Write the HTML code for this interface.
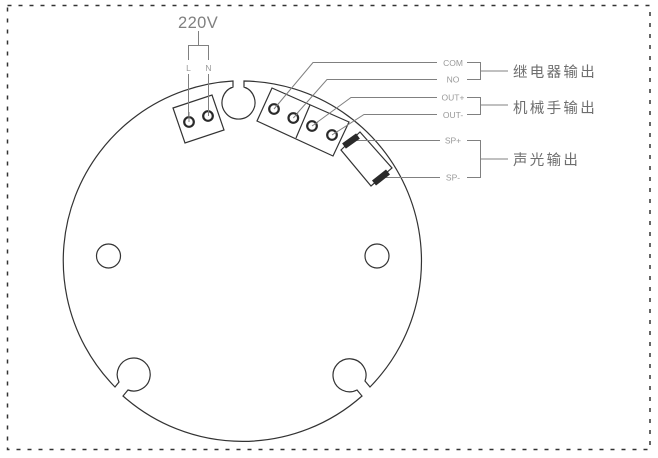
<!DOCTYPE html>
<html>
<head>
<meta charset="utf-8">
<style>
html,body{margin:0;padding:0;background:#fff;width:658px;height:458px;overflow:hidden}
svg{display:block}
text{font-family:"Liberation Sans","Noto Sans CJK SC",sans-serif;fill:#6e6e6e}
</style>
</head>
<body>
<svg width="658" height="458" viewBox="0 0 658 458" xmlns="http://www.w3.org/2000/svg">
<rect width="658" height="458" fill="#fff"/>
<rect x="7.5" y="5.5" width="642.5" height="444" fill="none" stroke="#333" stroke-width="1.5" stroke-dasharray="4 7"/>

<!-- board outline -->
<path d="M233 81 L233 87 A16.5 16.5 0 1 0 244 87 L244 81 A180 180 0 0 1 370 387 L365 381 A16.5 16.5 0 1 0 357 390 L362 396 A180 180 0 0 1 123 396 L128 390 A16.5 16.5 0 1 0 119 382 L115 387 A180 180 0 0 1 233 81 Z" fill="none" stroke="#333" stroke-width="1.2"/>
<circle cx="108.500" cy="256" r="12" fill="none" stroke="#333" stroke-width="1.2"/>
<circle cx="377" cy="256" r="12" fill="none" stroke="#333" stroke-width="1.2"/>

<!-- terminals -->
<g fill="#fff" stroke="#333" stroke-width="1.2">
<polygon points="173,108 212,95 224,130 185,143"/>
<polygon points="272,88 349,122 333,156 257,121"/>
<line x1="310" y1="105" x2="296" y2="138"/>
<polygon points="360,132 392,168 371,186 341,150"/>
</g>

<!-- leader lines -->
<g fill="none" stroke="#808080" stroke-width="1">
<path d="M198.500 31V45.500M188.500 60V45.500H208.500V60"/>
<path d="M188.500 74V122M208.500 74V116"/>
<path d="M274 109L313 62.500H437"/>
<path d="M293 118L327 79.500H437"/>
<path d="M312 126L351 97.500H437"/>
<path d="M332 135L364 114.500H437"/>
<path d="M352 140.500H440"/>
<path d="M382 177.500H440"/>
<path d="M467 62.500H480.500V79.500H467M480.500 71H508"/>
<path d="M467 97.500H480.500V114.500H467M480.500 105H508"/>
<path d="M467 140.500H480.500V177.500H467M480.500 159H508"/>
</g>

<!-- screws -->
<g fill="#fff" stroke="#2a2a2a" stroke-width="2.200">
<circle cx="189" cy="122" r="4.800"/>
<circle cx="208" cy="116" r="4.800"/>
<circle cx="274" cy="109" r="4.800"/>
<circle cx="293.300" cy="118" r="4.800"/>
<circle cx="312" cy="126" r="4.800"/>
<circle cx="332" cy="135" r="4.800"/>
</g>
<g fill="none" stroke="#808080" stroke-width="1">
<path d="M189 122V112M208.500 116V108M274 109L279 103M293.300 118L298 113M312 126L318 122M332 135L338 131"/>
</g>

<!-- resistors -->
<g stroke="#2a2a2a" fill="none">
<line x1="344" y1="146" x2="358" y2="136" stroke-width="6.500"/>
<line x1="374" y1="183" x2="388" y2="172" stroke-width="6.500"/>
</g>

<!-- labels -->
<text x="178" y="28" font-size="16.500" letter-spacing="0.400" style="fill:#808080">220V</text>
<text x="188.500" y="71" font-size="8.500" text-anchor="middle" style="fill:#999">L</text>
<text x="208.500" y="71" font-size="8.500" text-anchor="middle" style="fill:#999">N</text>
<g font-size="8.500" text-anchor="middle">
<text x="453" y="66" style="fill:#999">COM</text>
<text x="453" y="82.500" style="fill:#999">NO</text>
<text x="453" y="100.500" style="fill:#999">OUT+</text>
<text x="453" y="118" style="fill:#999">OUT-</text>
<text x="453" y="143.500" style="fill:#999">SP+</text>
<text x="453" y="180.500" style="fill:#999">SP-</text>
</g>
<g font-size="14.500" letter-spacing="2.300">
<text x="513" y="77">继电器输出</text>
<text x="513" y="113">机械手输出</text>
<text x="513" y="165">声光输出</text>
</g>
</svg>
</body>
</html>
